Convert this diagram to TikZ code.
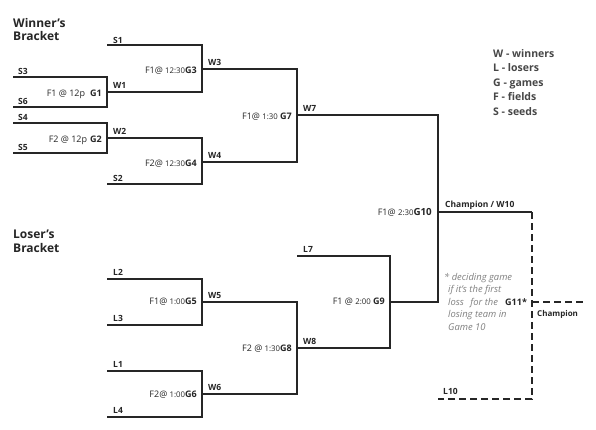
\documentclass[tikz,border=0pt]{standalone}
\usepackage{fontspec}
\setmainfont{Open Sans}
\definecolor{ink}{HTML}{262626}
\definecolor{notegray}{HTML}{808080}
\newcommand\gtime[1]{{\fontsize{7.8}{9}\selectfont #1}}
\newcommand\gname[1]{{\bfseries #1}}
\begin{document}
\begin{tikzpicture}[x=1pt,y=-1pt,
  wire/.style={draw=ink, line width=1.6pt},
  dwire/.style={wire, dash pattern=on 7pt off 4pt},
  lab/.style={inner sep=0pt, anchor=base west, text=ink, font=\fontsize{8.5}{10}\selectfont\bfseries},
  game/.style={inner sep=0pt, anchor=base east, text=ink, font=\fontsize{9}{10}\selectfont},
  head/.style={inner sep=0pt, anchor=base west, text=ink, font=\fontsize{12}{14}\selectfont\bfseries},
  legend/.style={inner sep=0pt, anchor=base west, text=ink!85, font=\fontsize{10.5}{12}\selectfont\bfseries},
  note/.style={inner sep=0pt, anchor=base west, text=notegray, font=\fontsize{9.4}{11}\selectfont\itshape}]
\useasboundingbox (0,0) rectangle (596,429);
\fill[white] (0,0) rectangle (596,429);
% coordinates
\coordinate (s1) at (107,45);  \coordinate (g3t) at (202,45);
\coordinate (s3) at (13,77);   \coordinate (g1t) at (107,77);
\coordinate (s6) at (13,107);  \coordinate (g1b) at (107,107);
\coordinate (g1m) at (107,92); \coordinate (g3b) at (202,92);
\coordinate (g3m) at (202,69); \coordinate (g7t) at (297,69);
\coordinate (s4) at (13,123);  \coordinate (g2t) at (107,123);
\coordinate (s5) at (13,153);  \coordinate (g2b) at (107,153);
\coordinate (g2m) at (107,138); \coordinate (g4t) at (202,138);
\coordinate (s2) at (107,184); \coordinate (g4b) at (202,184);
\coordinate (g4m) at (202,162); \coordinate (g7b) at (297,162);
\coordinate (g7m) at (297,115); \coordinate (g10t) at (438,115);
\coordinate (g10m) at (438,212); \coordinate (w10e) at (532,212);
\coordinate (g10b) at (438,302); \coordinate (g9m) at (390,302);
\coordinate (l2) at (107,279); \coordinate (g5t) at (202,279);
\coordinate (l3) at (107,325); \coordinate (g5b) at (202,325);
\coordinate (g5m) at (202,302); \coordinate (g8t) at (297,302);
\coordinate (l1) at (107,371); \coordinate (g6t) at (202,371);
\coordinate (l4) at (107,417); \coordinate (g6b) at (202,417);
\coordinate (g6m) at (202,394); \coordinate (g8b) at (297,394);
\coordinate (g8m) at (297,348); \coordinate (g9b) at (390,348);
\coordinate (l7) at (297,256); \coordinate (g9t) at (390,256);
\coordinate (l10) at (438,399); \coordinate (g11b) at (532,399);
\coordinate (g11m) at (532,302); \coordinate (champ) at (583,302);
% winners bracket
\draw[wire] (s3) -- (g1t) -- (g1b) -- (s6);
\draw[wire] (s4) -- (g2t) -- (g2b) -- (s5);
\draw[wire] (s1) -- (g3t) -- (g3b) -- (g1m);
\draw[wire] (g2m) -- (g4t) -- (g4b) -- (s2);
\draw[wire] (g3m) -- (g7t) -- (g7b) -- (g4m);
\draw[wire] (g7m) -- (g10t) -- (g10b) -- (g9m);
\draw[wire] (g10m) -- (w10e);
\draw[dwire] (w10e) -- (g11b) -- (l10);
\draw[dwire] (g11m) -- (champ);
% losers bracket
\draw[wire] (l2) -- (g5t) -- (g5b) -- (l3);
\draw[wire] (l1) -- (g6t) -- (g6b) -- (l4);
\draw[wire] (g5m) -- (g8t) -- (g8b) -- (g6m);
\draw[wire] (l7) -- (g9t) -- (g9b) -- (g8m);
% headings
\node[head] (hw1) at (13,27) {Winner’s};
\node[head] (hw2) at (13,40) {Bracket};
\node[head] (hl1) at (13,238) {Loser’s};
\node[head] (hl2) at (13,252) {Bracket};
% legend
\node[legend] (lg1) at (493,57) {W - winners};
\node[legend] (lg2) at (493,71.6) {L - losers};
\node[legend] (lg3) at (493,86.2) {G - games};
\node[legend] (lg4) at (493,100.8) {F - fields};
\node[legend] (lg5) at (493,115.4) {S - seeds};
% line labels
\node[lab] (ts1) at (113,43) {S1};
\node[lab] (ts3) at (18,74) {S3};
\node[lab] (ts6) at (18,104) {S6};
\node[lab] (ts4) at (18,120) {S4};
\node[lab] (ts5) at (18,150) {S5};
\node[lab] (ts2) at (113,181) {S2};
\node[lab] (tw1) at (113,88) {W1};
\node[lab] (tw2) at (113,134) {W2};
\node[lab] (tw3) at (208,65) {W3};
\node[lab] (tw4) at (208,158) {W4};
\node[lab] (tw7) at (303,111) {W7};
\node[lab] (tw10) at (445,207) {Champion / W10};
\node[lab] (tl2) at (113,275) {L2};
\node[lab] (tl3) at (113,321) {L3};
\node[lab] (tl1) at (113,367) {L1};
\node[lab] (tl4) at (113,413) {L4};
\node[lab] (tw5) at (208,298) {W5};
\node[lab] (tw6) at (208,390) {W6};
\node[lab] (tw8) at (303,344) {W8};
\node[lab] (tl7) at (303,252) {L7};
\node[lab] (tl10) at (443,394) {L10};
\node[lab, font=\fontsize{8}{10}\selectfont\bfseries] (tch) at (537,316) {Champion};
% game labels
\node[game] (gl1) at (102,96) {F1 @ 12p\hspace{5pt}\gname{G1}};
\node[game] (gl2) at (102,142) {F2 @ 12p\hspace{3pt}\gname{G2}};
\node[game] (gl3) at (197,73) {F1@ \gtime{12:30}\gname{G3}};
\node[game] (gl4) at (197,166) {F2@ \gtime{12:30}\gname{G4}};
\node[game] (gl7) at (292,119) {F1@ \gtime{1:30} \gname{G7}};
\node[game] (gl10) at (432,215) {F1@ \gtime{2:30}{\fontsize{9.8}{11}\selectfont\bfseries G10}};
\node[game] (gl5) at (197,304) {F1@ \gtime{1:00}\gname{G5}};
\node[game] (gl6) at (197,397) {F2@ \gtime{1:00}\gname{G6}};
\node[game] (gl8) at (292,351) {F2 @ \gtime{1:30}\gname{G8}};
\node[game] (gl9) at (385,304) {F1 @ \gtime{2:00} \gname{G9}};
% note
\node[note] (n1) at (444,280) {* deciding game};
\node[note] (n2) at (448,292.5) {if it’s the first};
\node[note] (n3) at (448,305) {loss\hspace{4pt} for the};
\node[note] (n4) at (448,317.5) {losing team in};
\node[note] (n5) at (448,330) {Game 10};
\node[lab, font=\fontsize{9}{10}\selectfont\bfseries] (g11) at (505,305) {G11*};
\end{tikzpicture}
\end{document}
